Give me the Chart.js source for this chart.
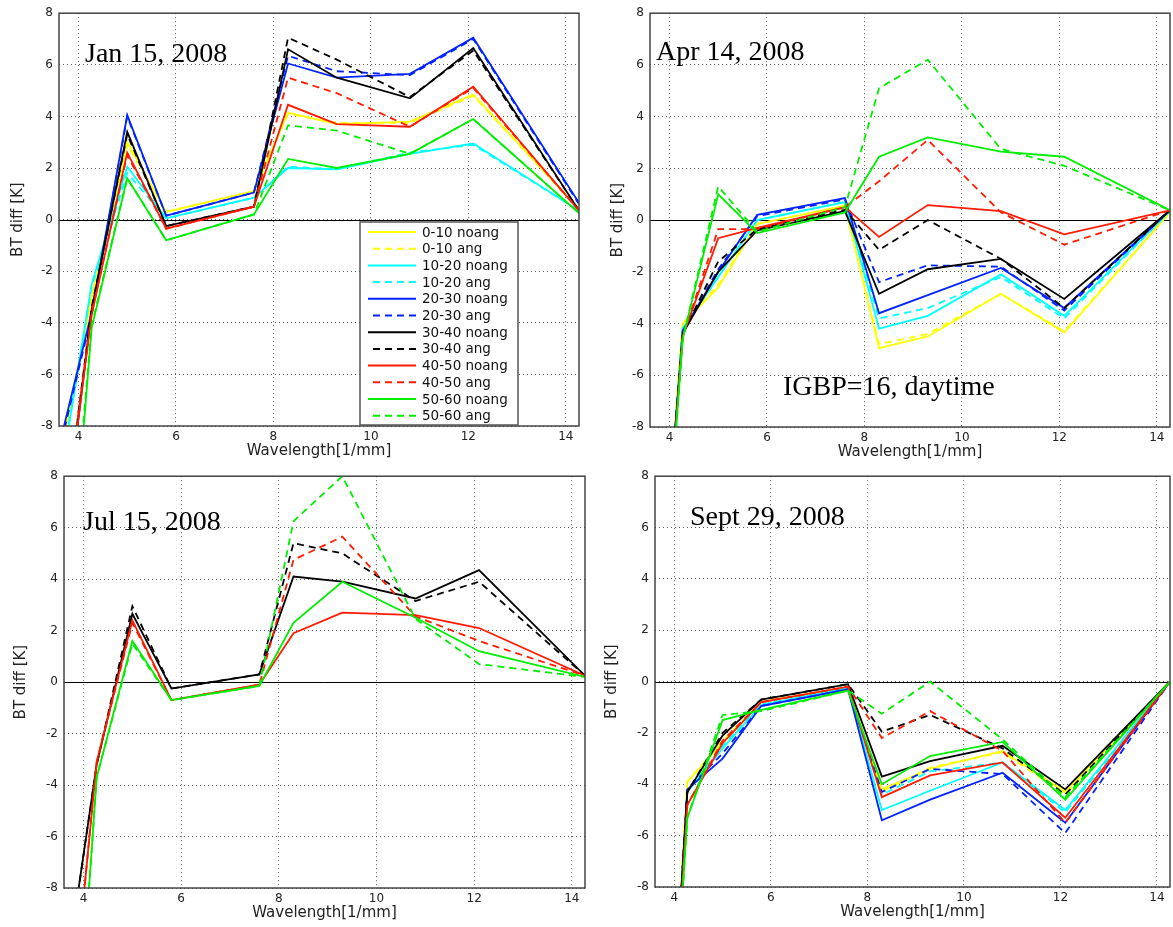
<!DOCTYPE html>
<html>
<head>
<meta charset="utf-8">
<script src="https://cdn.jsdelivr.net/npm/chart.js@4/dist/chart.umd.min.js"></script>
<style>
  html, body { margin: 0; padding: 0; background: #fff; }
  body { width: 1173px; height: 927px; position: relative; overflow: hidden; }
  canvas { position: absolute; }
</style>
</head>
<body>
<canvas id="chartJan" width="590" height="460" style="left:0;top:0"></canvas>
<canvas id="chartApr" width="582" height="462" style="left:591px;top:0"></canvas>
<canvas id="chartJul" width="590" height="464" style="left:0;top:463px"></canvas>
<canvas id="chartSep" width="582" height="464" style="left:591px;top:463px"></canvas>
<script>
// wavelength positions shared by every curve
const X_VALUES = [3.6, 4.27, 5.0, 5.8, 7.6, 8.3, 9.3, 10.8, 12.1, 14.27];
const X_TICKS = [4, 6, 8, 10, 12, 14];
const BINS = ["0-10", "10-20", "20-30", "30-40", "40-50", "50-60"];
const BIN_COLORS = ["#ffff00", "#00ffff", "#0022ff", "#000000", "#ff1a00", "#00ee00"];

// rows follow BINS order
const JAN_NOANG = [
  [-9.4, -3.0, 3.0, 0.3, 1.1, 4.15, 3.7, 3.8, 4.85, 0.4],
  [-10.4, -2.5, 2.05, 0.05, 0.85, 2.0, 1.95, 2.55, 2.95, 0.35],
  [-8.8, -3.6, 4.05, 0.15, 1.05, 6.05, 5.5, 5.65, 7.05, 0.65],
  [-13.9, -3.5, 3.4, -0.25, 0.5, 6.6, 5.5, 4.7, 6.65, 0.35],
  [-13.6, -3.7, 2.6, -0.35, 0.5, 4.45, 3.7, 3.6, 5.15, 0.35],
  [-20, -4.2, 1.6, -0.8, 0.2, 2.35, 2.0, 2.55, 3.9, 0.25]
];
const JAN_ANG = [
  [-9.6, -3.1, 2.9, 0.3, 1.1, 4.1, 3.75, 3.75, 4.8, 0.4],
  [-10.2, -2.6, 1.8, 0.05, 0.85, 2.05, 1.95, 2.6, 2.9, 0.35],
  [-9.0, -3.7, 4.0, 0.15, 1.05, 6.35, 5.75, 5.6, 7.0, 0.6],
  [-13.5, -3.4, 3.3, -0.25, 0.5, 7.05, 6.2, 4.75, 6.55, 0.35],
  [-13.2, -3.6, 2.5, -0.35, 0.5, 5.5, 4.9, 3.6, 5.1, 0.35],
  [-19, -4.1, 1.6, -0.8, 0.2, 3.65, 3.45, 2.55, 3.9, 0.25]
];

const APR_NOANG = [
  [-21, -4.0, -2.6, -0.15, 0.55, -4.95, -4.5, -2.85, -4.35, 0.3],
  [-21, -4.2, -2.2, 0.0, 0.7, -4.2, -3.7, -2.1, -3.7, 0.35],
  [-21, -4.3, -2.0, 0.2, 0.85, -3.6, -2.9, -1.85, -3.4, 0.38],
  [-21, -4.4, -2.0, -0.4, 0.35, -2.85, -1.9, -1.5, -3.05, 0.38],
  [-21, -4.5, -0.7, -0.3, 0.5, -0.65, 0.58, 0.35, -0.55, 0.38],
  [-22, -4.6, 1.0, -0.5, 0.3, 2.45, 3.2, 2.65, 2.45, 0.38]
];
const APR_ANG = [
  [-21, -4.0, -2.5, -0.15, 0.55, -4.8, -4.4, -2.85, -4.3, 0.3],
  [-21, -4.2, -2.2, 0.0, 0.7, -3.8, -3.4, -2.2, -3.8, 0.35],
  [-21, -4.3, -1.9, 0.15, 0.8, -2.4, -1.75, -1.8, -3.5, 0.38],
  [-21, -4.4, -1.6, -0.35, 0.4, -1.15, 0.0, -1.5, -3.4, 0.38],
  [-21, -4.5, -0.35, -0.35, 0.5, 1.5, 3.1, 0.3, -0.95, 0.38],
  [-22, -4.6, 1.3, -0.45, 0.5, 5.1, 6.2, 2.75, 2.1, 0.38]
];

// no data for the three lowest bins in July
const JUL_NOANG = [
  [],
  [],
  [],
  [-11.9, -3.2, 2.65, -0.25, 0.3, 4.1, 3.9, 3.25, 4.35, 0.25],
  [-16.2, -3.1, 2.4, -0.7, -0.1, 1.9, 2.7, 2.6, 2.1, 0.25],
  [-22, -3.7, 1.6, -0.7, -0.15, 2.3, 3.9, 2.5, 1.2, 0.2]
];
const JUL_ANG = [
  [],
  [],
  [],
  [-11.9, -3.2, 2.95, -0.25, 0.3, 5.4, 5.0, 3.15, 3.9, 0.25],
  [-16.2, -3.1, 2.3, -0.7, -0.1, 4.75, 5.65, 2.55, 1.6, 0.25],
  [-22, -3.7, 1.5, -0.7, -0.15, 6.25, 8.0, 2.45, 0.7, 0.2]
];

const SEP_NOANG = [
  [-25, -3.9, -2.4, -0.8, -0.2, -4.2, -3.4, -2.7, -4.3, 0.0],
  [-25, -4.3, -2.6, -0.9, -0.25, -5.0, -4.25, -3.15, -5.0, 0.0],
  [-25, -4.2, -3.0, -0.95, -0.3, -5.4, -4.6, -3.55, -5.5, 0.0],
  [-25, -4.3, -2.1, -0.7, -0.1, -3.7, -3.1, -2.5, -4.2, 0.0],
  [-25, -4.8, -2.4, -0.8, -0.2, -4.5, -3.65, -3.15, -5.3, 0.0],
  [-25, -5.3, -1.5, -1.1, -0.35, -4.0, -2.9, -2.35, -4.6, 0.0]
];
const SEP_ANG = [
  [-25, -3.9, -2.3, -0.8, -0.2, -4.3, -3.35, -2.75, -4.4, 0.0],
  [-25, -4.3, -2.5, -0.9, -0.25, -4.4, -3.5, -3.15, -5.1, 0.0],
  [-25, -4.2, -2.8, -0.95, -0.3, -4.3, -3.4, -3.6, -5.9, 0.0],
  [-25, -4.3, -2.0, -0.7, -0.1, -1.95, -1.3, -2.6, -4.4, 0.0],
  [-25, -4.8, -2.3, -0.8, -0.2, -2.2, -1.15, -2.7, -5.5, 0.0],
  [-25, -5.3, -1.3, -1.15, -0.35, -1.25, 0.0, -2.25, -4.5, 0.0]
];

const TICK_FONT = { family: "DejaVu Sans", size: 12 };

// box, zero line, date labels and the in-axes legend, matlab style
const matlabAxes = {
  id: "matlabAxes",
  beforeDatasetsDraw(chart) {
    const { ctx, chartArea: a, scales } = chart;
    const y0 = scales.y.getPixelForValue(0);
    ctx.save();
    ctx.strokeStyle = "#000";
    ctx.lineWidth = 1;
    ctx.beginPath();
    ctx.moveTo(a.left, Math.round(y0) + 0.5);
    ctx.lineTo(a.right, Math.round(y0) + 0.5);
    ctx.stroke();
    ctx.restore();
  },
  afterDraw(chart, _args, opts) {
    const { ctx, chartArea: a } = chart;
    ctx.save();
    ctx.strokeStyle = "#444";
    ctx.lineWidth = 1.5;
    ctx.strokeRect(a.left, a.top, a.right - a.left, a.bottom - a.top);

    ctx.fillStyle = "#000";
    ctx.font = "28px 'Liberation Serif'";
    ctx.textBaseline = "alphabetic";
    (opts.notes || []).forEach((n) => ctx.fillText(n.text, n.x, n.y));

    const lg = opts.legend;
    if (lg) {
      ctx.fillStyle = "#fff";
      ctx.fillRect(lg.x, lg.y, lg.w, lg.h);
      ctx.strokeStyle = "#555";
      ctx.lineWidth = 1.5;
      ctx.strokeRect(lg.x, lg.y, lg.w, lg.h);
      ctx.font = "13.5px 'DejaVu Sans'";
      ctx.textBaseline = "middle";
      chart.data.datasets.forEach((ds, i) => {
        const cy = lg.y + 10 + i * 16.7;
        ctx.strokeStyle = ds.borderColor;
        ctx.lineWidth = 2;
        ctx.setLineDash(ds.borderDash || []);
        ctx.beginPath();
        ctx.moveTo(lg.x + 8 + (ds.borderDash.length ? 5 : 0), cy);
        ctx.lineTo(lg.x + 56, cy);
        ctx.stroke();
        ctx.setLineDash([]);
        ctx.fillStyle = "#111";
        ctx.fillText(ds.label, lg.x + 62, cy + 1);
      });
    }
    ctx.restore();
  }
};

function buildDatasets(noang, ang) {
  const sets = [];
  BINS.forEach((bin, b) => {
    [[noang[b], "noang", []], [ang[b], "ang", [7, 5]]].forEach(([row, kind, dash]) => {
      sets.push({
        label: `${bin} ${kind}`,
        data: row.map((y, i) => ({ x: X_VALUES[i], y })),
        borderColor: BIN_COLORS[b],
        borderDash: dash,
        borderWidth: 1.8,
        pointRadius: 0,
        tension: 0,
        clip: 0
      });
    });
  });
  sets.forEach((s, i) => { s.order = sets.length - i; });
  return sets;
}

function createPanel(id, noang, ang, layout) {
  const canvas = document.getElementById(id);
  new Chart(canvas, {
    type: "line",
    data: { datasets: buildDatasets(noang, ang) },
    plugins: [matlabAxes],
    options: {
      responsive: false,
      animation: false,
      layout: { padding: layout.padding },
      plugins: {
        legend: { display: false },
        tooltip: { enabled: false },
        matlabAxes: { notes: layout.notes, legend: layout.legend }
      },
      scales: {
        x: {
          type: "linear",
          min: 3.6,
          max: 14.27,
          afterBuildTicks: (scale) => { scale.ticks = X_TICKS.map((v) => ({ value: v })); },
          afterFit: (scale) => { scale.height = 34; },
          ticks: { color: "#222", font: TICK_FONT, padding: 4, maxRotation: 0 },
          grid: { color: "rgba(0,0,0,0.65)", lineWidth: 1, drawTicks: false },
          border: { display: false, dash: [1, 3] },
          title: {
            display: true,
            text: "Wavelength[1/mm]",
            color: "#222",
            font: { family: "DejaVu Sans", size: 15 },
            padding: { top: 0, bottom: 0 }
          }
        },
        y: {
          min: -8,
          max: 8,
          afterFit: (scale) => { scale.width = layout.yWidth; },
          ticks: { stepSize: 2, color: "#222", font: TICK_FONT, padding: 6 },
          grid: { color: "rgba(0,0,0,0.65)", lineWidth: 1, drawTicks: false },
          border: { display: false, dash: [1, 3] },
          title: {
            display: true,
            text: "BT diff [K]",
            color: "#222",
            font: { family: "DejaVu Sans", size: 15 },
            padding: { top: layout.titlePad, bottom: 0 }
          }
        }
      }
    }
  });
}

createPanel("chartJan", JAN_NOANG, JAN_ANG, {
  padding: { top: 10, right: 11, bottom: 0, left: 0 },
  yWidth: 59,
  titlePad: 9,
  notes: [{ text: "Jan 15, 2008", x: 85, y: 62 }],
  legend: { x: 360, y: 222, w: 158, h: 203 }
});

createPanel("chartApr", APR_NOANG, APR_ANG, {
  padding: { top: 11, right: 3, bottom: 1, left: 0 },
  yWidth: 59,
  titlePad: 18,
  notes: [
    { text: "Apr 14, 2008", x: 65, y: 60 },
    { text: "IGBP=16, daytime", x: 192, y: 395 }
  ]
});

createPanel("chartJul", JUL_NOANG, JUL_ANG, {
  padding: { top: 10, right: 5, bottom: 5, left: 0 },
  yWidth: 64,
  titlePad: 12,
  notes: [{ text: "Jul 15, 2008", x: 83, y: 67 }]
});

createPanel("chartSep", SEP_NOANG, SEP_ANG, {
  padding: { top: 8, right: 3, bottom: 6, left: 0 },
  yWidth: 64,
  titlePad: 12,
  notes: [{ text: "Sept 29, 2008", x: 99, y: 62 }]
});
</script>
</body>
</html>
